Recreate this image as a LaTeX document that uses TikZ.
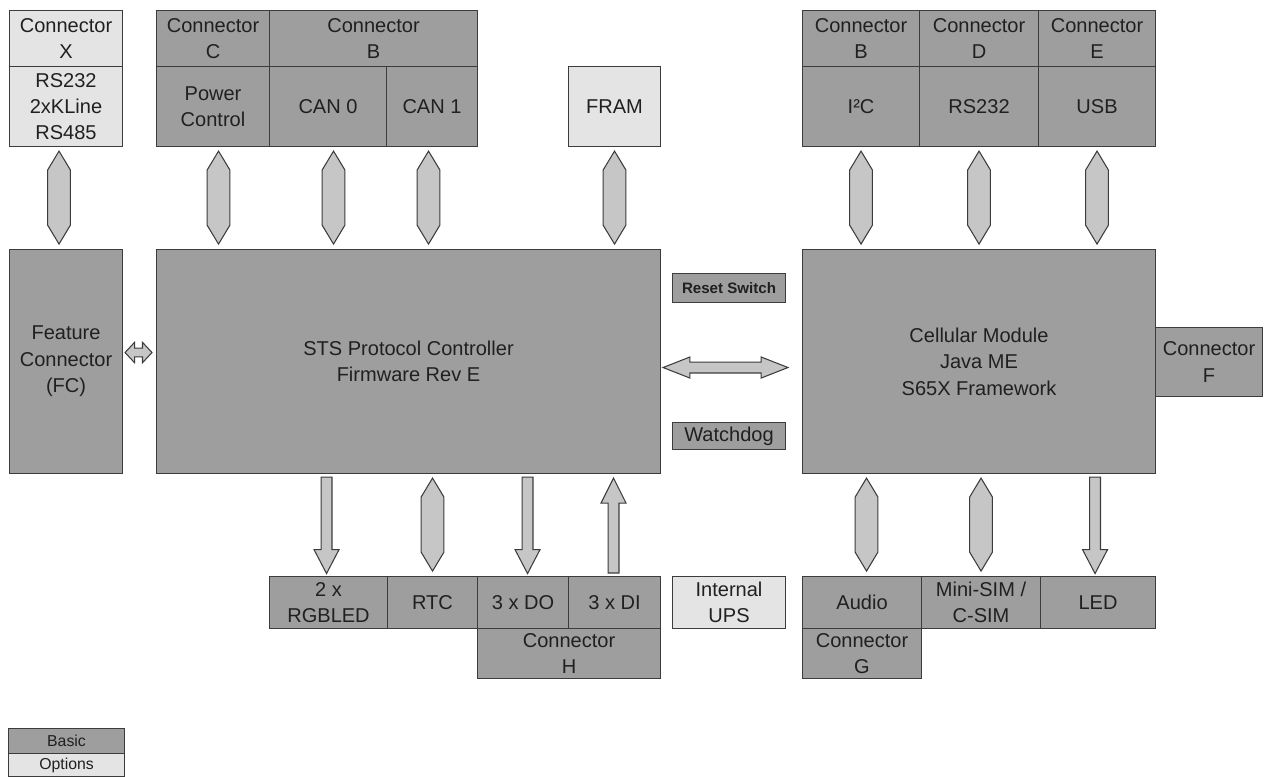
\documentclass[tikz,border=0pt]{standalone}
\usepackage{fontspec}
\setmainfont{Liberation Sans}
\usetikzlibrary{calc}
\definecolor{basicfill}{HTML}{9E9E9E}
\definecolor{optfill}{HTML}{E4E4E4}
\definecolor{arrowfill}{HTML}{C6C6C6}
\definecolor{edgedark}{HTML}{3C3C3C}
\definecolor{textdark}{HTML}{202020}

\begin{document}
\begin{tikzpicture}[
    x=0.02cm, y=-0.02cm,
    every node/.style={font=\fontsize{11.4}{15}\selectfont, text=textdark},
    sz/.style 2 args={minimum width=#1*0.02cm, minimum height=#2*0.02cm},
    basic/.style={rectangle, draw=edgedark, fill=basicfill, line width=0.6pt, align=center, inner sep=1pt, anchor=north west},
    option/.style={basic, fill=optfill},
    smallbold/.style={font=\bfseries\fontsize{8.6}{10}\selectfont},
    legend/.style={font=\fontsize{9}{10}\selectfont},
    hexv/.style={draw=edgedark, fill=arrowfill, line width=0.6pt,
        to path={let \p1=(\tikztostart), \p2=(\tikztotarget) in
            (\x1,\y1-2.3pt) -- (\x1+6.5pt,\y1-13.1pt) -- (\x1+6.5pt,\y2+13.6pt)
            -- (\x1,\y2+2.8pt) -- (\x1-6.5pt,\y2+13.6pt) -- (\x1-6.5pt,\y1-13.1pt) -- cycle}},
    downarr/.style={draw=edgedark, fill=arrowfill, line width=0.6pt,
        to path={let \p1=(\tikztostart), \p2=(\tikztotarget) in
            (\x1-3.1pt,\y1-1.7pt) -- (\x1+3.1pt,\y1-1.7pt) -- (\x1+3.1pt,\y2+15pt) -- (\x1+7.1pt,\y2+15pt)
            -- (\x1,\y2+1.4pt) -- (\x1-7.1pt,\y2+15pt) -- (\x1-3.1pt,\y2+15pt) -- cycle}},
    uparr/.style={draw=edgedark, fill=arrowfill, line width=0.6pt,
        to path={let \p1=(\tikztostart), \p2=(\tikztotarget) in
            (\x1,\y1-2.3pt) -- (\x1+7.1pt,\y1-16.5pt) -- (\x1+3.1pt,\y1-16.5pt) -- (\x1+3.1pt,\y2+1.7pt)
            -- (\x1-3.1pt,\y2+1.7pt) -- (\x1-3.1pt,\y1-16.5pt) -- (\x1-7.1pt,\y1-16.5pt) -- cycle}},
    dblh/.style n args={3}{draw=edgedark, fill=arrowfill, line width=0.6pt,
        to path={let \p1=(\tikztostart), \p2=(\tikztotarget) in
            (\x1,\y1) -- (\x1+#3,\y1+#2) -- (\x1+#3,\y1+#1) -- (\x2-#3,\y1+#1) -- (\x2-#3,\y1+#2)
            -- (\x2,\y1) -- (\x2-#3,\y1-#2) -- (\x2-#3,\y1-#1) -- (\x1+#3,\y1-#1) -- (\x1+#3,\y1-#2) -- cycle}}
]
\useasboundingbox (0,0) rectangle (1264,777);

% top row, left
\node[option, sz={113}{56}] (conxh) at (9,10) {Connector\\X};
\node[option, sz={113}{80}] (conxb) at (9,66) {RS232\\2xKLine\\RS485};
\node[basic, sz={113}{56}] (conc) at (156,10) {Connector\\C};
\node[basic, sz={208}{56}] (conbl) at (269,10) {Connector\\B};
\node[basic, sz={113}{80}] (pwr) at (156,66) {Power\\Control};
\node[basic, sz={117}{80}] (can0) at (269,66) {CAN 0};
\node[basic, sz={91}{80}] (can1) at (386,66) {CAN 1};
\node[option, sz={92}{80}] (fram) at (568,66) {FRAM};

% top row, right
\node[basic, sz={117}{56}] (conbr) at (802,10) {Connector\\B};
\node[basic, sz={119}{56}] (cond) at (919,10) {Connector\\D};
\node[basic, sz={117}{56}] (cone) at (1038,10) {Connector\\E};
\node[basic, sz={117}{80}] (iic) at (802,66) {I²C};
\node[basic, sz={119}{80}] (rs) at (919,66) {RS232};
\node[basic, sz={117}{80}] (usb) at (1038,66) {USB};

% main blocks
\node[basic, sz={113}{224}] (fc) at (9,249) {Feature\\Connector\\(FC)};
\node[basic, sz={504}{224}] (sts) at (156,249) {STS Protocol Controller\\Firmware Rev E};
\node[basic, sz={113}{29}, smallbold] (reset) at (672,273) {Reset Switch};
\node[basic, sz={113}{27}] (wdog) at (672,422) {Watchdog};
\node[basic, sz={353}{224}] (cell) at (802,249) {Cellular Module\\Java ME\\S65X Framework};
\node[basic, sz={107}{69}] (conf) at (1155,327) {Connector\\F};

% bottom row
\node[basic, sz={118}{52}] (rgb) at (269,576) {2 x\\RGBLED};
\node[basic, sz={90}{52}] (rtc) at (387,576) {RTC};
\node[basic, sz={91}{52}] (dout) at (477,576) {3 x DO};
\node[basic, sz={92}{52}] (din) at (568,576) {3 x DI};
\node[basic, sz={183}{50}] (conh) at (477,628) {Connector\\H};
\node[option, sz={113}{52}] (ups) at (672,576) {Internal\\UPS};
\node[basic, sz={119}{52}] (audio) at (802,576) {Audio};
\node[basic, sz={119}{52}] (sim) at (921,576) {Mini-SIM /\\C-SIM};
\node[basic, sz={115}{52}] (led) at (1040,576) {LED};
\node[basic, sz={119}{50}] (cong) at (802,628) {Connector\\G};

% legend
\node[basic, sz={116}{25}, legend] (lgbasic) at (8,728) {Basic};
\node[option, sz={116}{23}, legend] (lgopt) at (8,753) {Options};

% links
\draw[hexv] ($(conxb.south)+(-7,0)$) to (fc.north);
\draw[hexv] ($(pwr.south)+(5.5,0)$) to (sts.north);
\draw[hexv] ($(can0.south)+(5.5,0)$) to (sts.north);
\draw[hexv] ($(can1.south)+(-3.5,0)$) to (sts.north);
\draw[hexv] (fram.south) to (sts.north);
\draw[hexv] (iic.south) to (cell.north);
\draw[hexv] (rs.south) to (cell.north);
\draw[hexv] (usb.south) to (cell.north);
\draw[dblh={2.5pt}{5.8pt}{5.4pt}] ($(fc.east)+(2,-9)$) to ($(sts.west)+(-4,-9)$);
\draw[dblh={3.1pt}{6pt}{15.3pt}] ($(sts.east)+(2,6)$) to ($(cell.west)+(-14,6)$);
\draw[downarr] ($(sts.south -| rgb.north)+(-2,0)$) to (rgb.north);
\draw[hexv] (sts.south -| rtc.north) to (rtc.north);
\draw[downarr] ($(sts.south -| dout.north)+(4.5,0)$) to (dout.north);
\draw[uparr] ($(sts.south -| din.north)+(-1,0)$) to (din.north);
\draw[hexv] ($(cell.south -| audio.north)+(4.5,0)$) to (audio.north);
\draw[hexv] (cell.south -| sim.north) to (sim.north);
\draw[downarr] ($(cell.south -| led.north)+(-3,0)$) to (led.north);
\end{tikzpicture}
\end{document}
